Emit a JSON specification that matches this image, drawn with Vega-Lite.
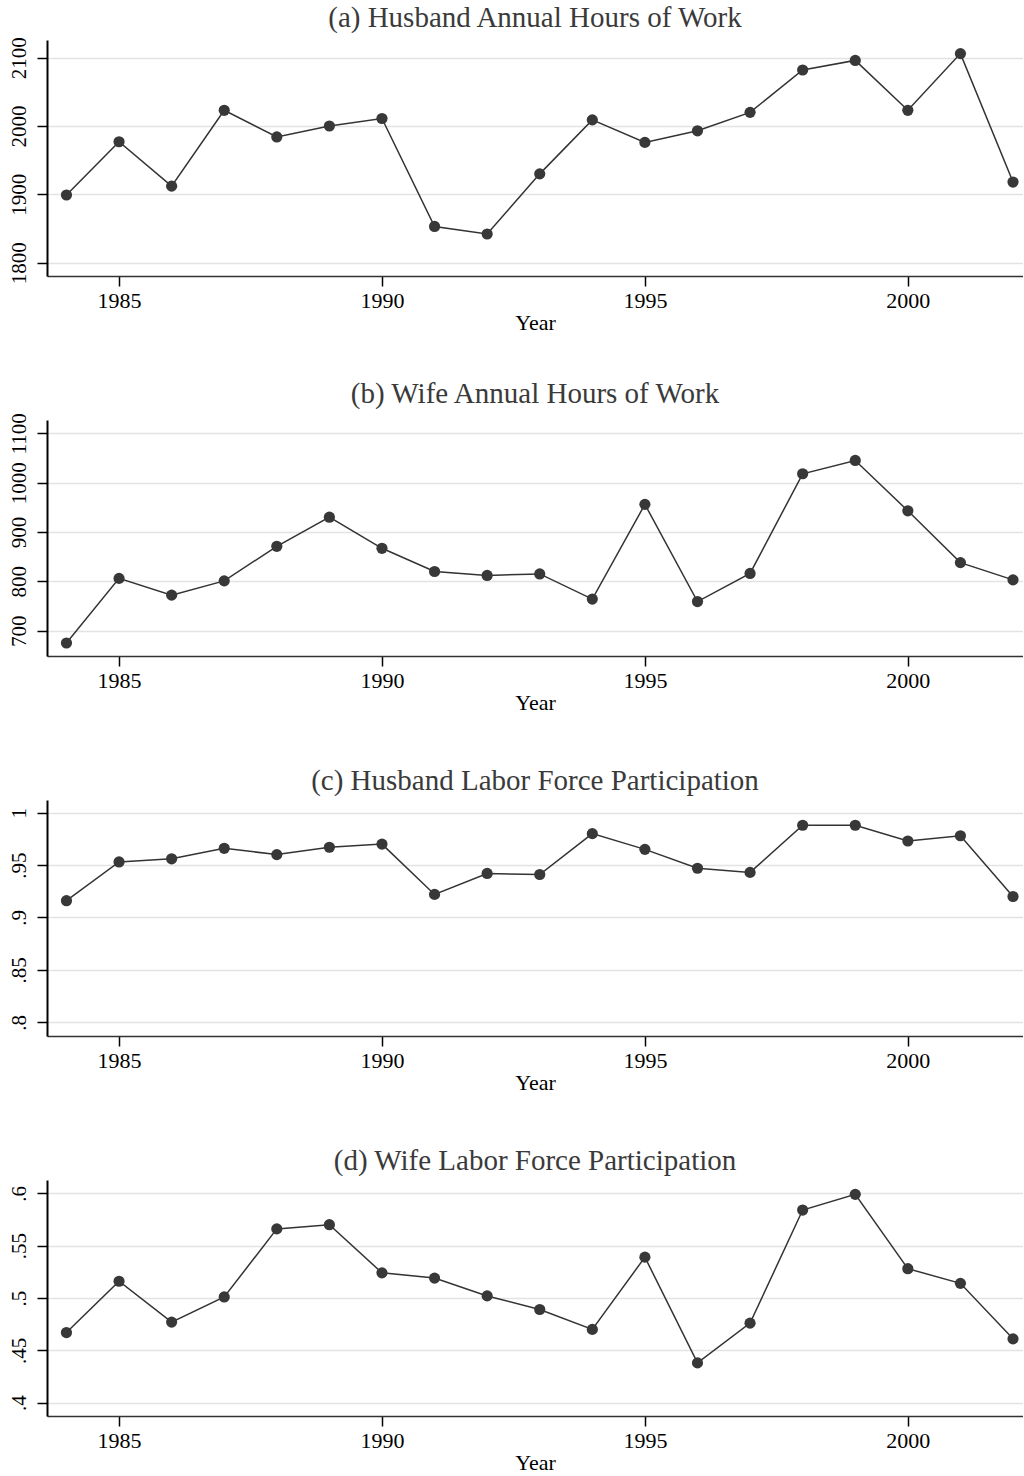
{
  "$schema": "https://vega.github.io/schema/vega-lite/v6.json",
  "autosize": {"type": "pad"},
  "padding": {"left": 7, "top": 3, "right": 0, "bottom": 0},
  "background": "white",
  "spacing": 144,
  "bounds": "flush",
  "datasets": {
    "a": [
      {"year": 1984, "value": 1899}, {"year": 1985, "value": 1977}, {"year": 1986, "value": 1912},
      {"year": 1987, "value": 2023}, {"year": 1988, "value": 1984}, {"year": 1989, "value": 2000},
      {"year": 1990, "value": 2011}, {"year": 1991, "value": 1853}, {"year": 1992, "value": 1842},
      {"year": 1993, "value": 1930}, {"year": 1994, "value": 2009}, {"year": 1995, "value": 1976},
      {"year": 1996, "value": 1993}, {"year": 1997, "value": 2020}, {"year": 1998, "value": 2082},
      {"year": 1999, "value": 2096}, {"year": 2000, "value": 2023}, {"year": 2001, "value": 2106},
      {"year": 2002, "value": 1918}
    ],
    "b": [
      {"year": 1984, "value": 675}, {"year": 1985, "value": 806}, {"year": 1986, "value": 772},
      {"year": 1987, "value": 801}, {"year": 1988, "value": 871}, {"year": 1989, "value": 930},
      {"year": 1990, "value": 867}, {"year": 1991, "value": 820}, {"year": 1992, "value": 812},
      {"year": 1993, "value": 815}, {"year": 1994, "value": 764}, {"year": 1995, "value": 956},
      {"year": 1996, "value": 759}, {"year": 1997, "value": 816}, {"year": 1998, "value": 1018},
      {"year": 1999, "value": 1045}, {"year": 2000, "value": 943}, {"year": 2001, "value": 838},
      {"year": 2002, "value": 803}
    ],
    "c": [
      {"year": 1984, "value": 0.916}, {"year": 1985, "value": 0.953}, {"year": 1986, "value": 0.956},
      {"year": 1987, "value": 0.966}, {"year": 1988, "value": 0.960}, {"year": 1989, "value": 0.967},
      {"year": 1990, "value": 0.970}, {"year": 1991, "value": 0.922}, {"year": 1992, "value": 0.942},
      {"year": 1993, "value": 0.941}, {"year": 1994, "value": 0.980}, {"year": 1995, "value": 0.965},
      {"year": 1996, "value": 0.947}, {"year": 1997, "value": 0.943}, {"year": 1998, "value": 0.988},
      {"year": 1999, "value": 0.988}, {"year": 2000, "value": 0.973}, {"year": 2001, "value": 0.978},
      {"year": 2002, "value": 0.920}
    ],
    "d": [
      {"year": 1984, "value": 0.467}, {"year": 1985, "value": 0.516}, {"year": 1986, "value": 0.477},
      {"year": 1987, "value": 0.501}, {"year": 1988, "value": 0.566}, {"year": 1989, "value": 0.570},
      {"year": 1990, "value": 0.524}, {"year": 1991, "value": 0.519}, {"year": 1992, "value": 0.502},
      {"year": 1993, "value": 0.489}, {"year": 1994, "value": 0.470}, {"year": 1995, "value": 0.539},
      {"year": 1996, "value": 0.438}, {"year": 1997, "value": 0.476}, {"year": 1998, "value": 0.584},
      {"year": 1999, "value": 0.599}, {"year": 2000, "value": 0.528}, {"year": 2001, "value": 0.514},
      {"year": 2002, "value": 0.461}
    ]
  },
  "vconcat": [
    {
      "title": "(a) Husband Annual Hours of Work",
      "width": 976, "height": 236,
      "data": {"name": "a"},
      "encoding": {
        "x": {"field": "year", "type": "quantitative", "scale": {"domain": [1983.63, 2002.19], "nice": false, "zero": false}, "axis": {"values": [1985, 1990, 1995, 2000], "format": "d", "title": "Year"}},
        "y": {"field": "value", "type": "quantitative", "scale": {"domain": [1780.5, 2125.9], "nice": false, "zero": false}, "axis": {"values": [1800, 1900, 2000, 2100], "format": "d", "title": null, "labelAngle": -90, "labelAlign": "center", "labelBaseline": "alphabetic"}}
      },
      "layer": [
        {"mark": {"type": "line", "color": "#333333", "strokeWidth": 1.5}},
        {"mark": {"type": "point", "filled": true, "opacity": 1, "size": 125, "color": "#383838"}}
      ]
    },
    {
      "title": "(b) Wife Annual Hours of Work",
      "width": 976, "height": 236,
      "data": {"name": "b"},
      "encoding": {
        "x": {"field": "year", "type": "quantitative", "scale": {"domain": [1983.63, 2002.19], "nice": false, "zero": false}, "axis": {"values": [1985, 1990, 1995, 2000], "format": "d", "title": "Year"}},
        "y": {"field": "value", "type": "quantitative", "scale": {"domain": [648.7, 1127], "nice": false, "zero": false}, "axis": {"values": [700, 800, 900, 1000, 1100], "format": "d", "title": null, "labelAngle": -90, "labelAlign": "center", "labelBaseline": "alphabetic"}}
      },
      "layer": [
        {"mark": {"type": "line", "color": "#333333", "strokeWidth": 1.5}},
        {"mark": {"type": "point", "filled": true, "opacity": 1, "size": 125, "color": "#383838"}}
      ]
    },
    {
      "title": "(c) Husband Labor Force Participation",
      "width": 976, "height": 236,
      "data": {"name": "c"},
      "encoding": {
        "x": {"field": "year", "type": "quantitative", "scale": {"domain": [1983.63, 2002.19], "nice": false, "zero": false}, "axis": {"values": [1985, 1990, 1995, 2000], "format": "d", "title": "Year"}},
        "y": {"field": "value", "type": "quantitative", "scale": {"domain": [0.7869, 1.0121], "nice": false, "zero": false}, "axis": {"values": [0.8, 0.85, 0.9, 0.95, 1], "labelExpr": "datum.value == 1 ? '1' : substring(format(datum.value, '.2~f'), 1)", "title": null, "labelAngle": -90, "labelAlign": "center", "labelBaseline": "alphabetic"}}
      },
      "layer": [
        {"mark": {"type": "line", "color": "#333333", "strokeWidth": 1.5}},
        {"mark": {"type": "point", "filled": true, "opacity": 1, "size": 125, "color": "#383838"}}
      ]
    },
    {
      "title": "(d) Wife Labor Force Participation",
      "width": 976, "height": 236,
      "data": {"name": "d"},
      "encoding": {
        "x": {"field": "year", "type": "quantitative", "scale": {"domain": [1983.63, 2002.19], "nice": false, "zero": false}, "axis": {"values": [1985, 1990, 1995, 2000], "format": "d", "title": "Year"}},
        "y": {"field": "value", "type": "quantitative", "scale": {"domain": [0.3873, 0.6127], "nice": false, "zero": false}, "axis": {"values": [0.4, 0.45, 0.5, 0.55, 0.6], "labelExpr": "substring(format(datum.value, '.2~f'), 1)", "title": null, "labelAngle": -90, "labelAlign": "center", "labelBaseline": "alphabetic"}}
      },
      "layer": [
        {"mark": {"type": "line", "color": "#333333", "strokeWidth": 1.5}},
        {"mark": {"type": "point", "filled": true, "opacity": 1, "size": 125, "color": "#383838"}}
      ]
    }
  ],
  "config": {
    "font": "Liberation Serif",
    "view": {"stroke": null},
    "title": {"font": "Liberation Serif", "fontSize": 29, "fontWeight": "normal", "color": "#3a3a3a", "offset": 4, "anchor": "middle"},
    "axis": {
      "labelFont": "Liberation Serif", "titleFont": "Liberation Serif",
      "labelColor": "#000000", "titleColor": "#000000", "titleFontWeight": "normal",
      "tickColor": "#000000", "domainColor": "#000000",
      "gridColor": "#e3e3e3", "gridWidth": 1.5, "tickSize": 10,
      "labelFlush": false, "labelOverlap": false
    },
    "axisX": {"grid": false, "labelFontSize": 22, "titleFontSize": 22, "labelPadding": 4, "titlePadding": 1, "domainWidth": 1.5, "tickWidth": 1.5, "domainColor": "#333333"},
    "axisY": {"grid": true, "labelFontSize": 21, "labelPadding": 12, "domainWidth": 2, "tickWidth": 1.5}
  }
}
